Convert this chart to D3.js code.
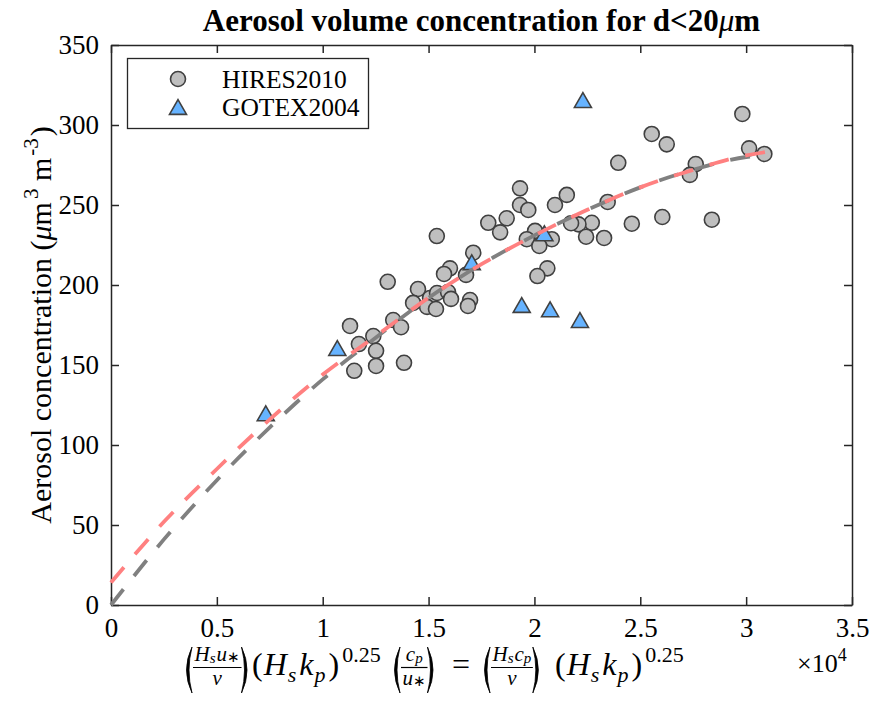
<!DOCTYPE html>
<html><head><meta charset="utf-8">
<script src="https://cdn.jsdelivr.net/npm/d3@7"></script>
<style>body{margin:0;background:#fff}svg{display:block}</style>
</head><body><svg id="c" width="874" height="710"></svg>
<script>
// ---------------- DATA ----------------
const hiresX = [2.982,2.554,2.625,3.014,3.086,2.396,2.762,2.734,2.346,2.271,2.208,2.460,2.604,2.838,2.244,2.329,
  1.932,2.153,1.932,2.097,1.971,1.869,1.782,1.838,2.003,2.173,1.964,2.082,2.023,2.061,2.014,
  1.539,1.711,1.601,1.573,1.677,1.450,1.427,1.507,1.540,1.592,1.606,1.493,1.535,1.696,1.686,
  1.307,1.333,1.370,1.129,1.239,1.171,1.252,1.384,1.252,1.149];
const hiresY = [306.9,294.4,287.9,285.4,281.9,276.4,275.6,268.8,251.9,238.9,237.9,238.3,242.5,240.8,230.2,229.4,
  260.4,256.3,250.0,250.0,246.9,241.7,238.9,232.9,233.8,238.6,228.6,228.6,224.4,210.4,205.6,
  230.6,220.2,210.4,206.9,206.3,197.5,188.8,191.9,195.0,195.6,191.3,186.3,185.0,190.6,186.9,
  202.0,178.1,173.6,174.4,168.1,163.1,158.9,151.4,149.4,146.4];
const gotexX = [2.229,1.069,0.731,1.704,2.047,1.940,2.074,2.215];
const gotexY = [315.6,160.6,119.8,214.2,232.3,187.5,184.8,178.1];
const fitX     = [0,0.25,0.5,0.75,1,1.25,1.5,1.75,2,2.25,2.5,2.75,3,3.09];
const grayFitY = [0,41,78,111,141,167,192,213,231,247,261,272,280,281];
const redFitY  = [14,52,85,116,144,168,192,213,231,247,261,272,281,283];
const xTicks = [0,0.5,1,1.5,2,2.5,3,3.5];
const xTickLabels = ["0","0.5","1","1.5","2","2.5","3","3.5"];
const yTicks = [0,50,100,150,200,250,300,350];
const yTickLabels = ["0","50","100","150","200","250","300","350"];
const seriesNames = ["HIRES2010","GOTEX2004"];

// ---------------- SETUP ----------------
const FONT = '"Liberation Serif","Times New Roman",Times,serif';
const AX = '#262626';
const svg = d3.select('#c').attr('font-family', FONT);
const x = d3.scaleLinear().domain([0,3.5]).range([111,852]);
const y = d3.scaleLinear().domain([0,350]).range([605,45]);

function styleAxis(g){
  g.selectAll('path.domain').attr('stroke',AX).attr('stroke-width',1.5);
  g.selectAll('.tick line').attr('stroke',AX).attr('stroke-width',1.5);
  g.selectAll('.tick text').attr('fill','#000').attr('font-size',27).attr('font-family',FONT);
}
svg.append('g').attr('transform','translate(0,605)')
  .call(d3.axisBottom(x).tickValues(xTicks).tickFormat((d,i)=>xTickLabels[i]).tickSizeInner(-8).tickSizeOuter(0).tickPadding(13))
  .call(styleAxis);
svg.append('g').attr('transform','translate(0,45)')
  .call(d3.axisTop(x).tickValues(xTicks).tickFormat('').tickSizeInner(-8).tickSizeOuter(0))
  .call(styleAxis);
svg.append('g').attr('transform','translate(111,0)')
  .call(d3.axisLeft(y).tickValues(yTicks).tickFormat((d,i)=>yTickLabels[i]).tickSizeInner(-8).tickSizeOuter(0).tickPadding(12))
  .call(styleAxis);
svg.append('g').attr('transform','translate(852,0)')
  .call(d3.axisRight(y).tickValues(yTicks).tickFormat('').tickSizeInner(-8).tickSizeOuter(0))
  .call(styleAxis);

// markers
const CIRC_FILL = '#bfbfbf', MK_STROKE = '#404040', TRI_FILL = '#66b3ff';
const triPath = (s)=>{const h=s*0.87;return `M0,${-h/2}L${s/2},${h/2}L${-s/2},${h/2}Z`;};
svg.append('g').selectAll('circle').data(d3.zip(hiresX,hiresY)).join('circle')
  .attr('cx',d=>x(d[0])).attr('cy',d=>y(d[1])).attr('r',7.5)
  .attr('fill',CIRC_FILL).attr('stroke',MK_STROKE).attr('stroke-width',1.6);
svg.append('g').selectAll('path').data(d3.zip(gotexX,gotexY)).join('path')
  .attr('transform',d=>`translate(${x(d[0])},${y(d[1])})`).attr('d',triPath(17))
  .attr('fill',TRI_FILL).attr('stroke',MK_STROKE).attr('stroke-width',1.6);

// fit curves
const line = d3.line().x(d=>x(d[0])).y(d=>y(d[1])).curve(d3.curveMonotoneX);
svg.append('path').datum(d3.zip(fitX,grayFitY)).attr('d',line).attr('fill','none')
  .attr('stroke','#808080').attr('stroke-width',3.8).attr('stroke-dasharray','20,17');
svg.append('path').datum(d3.zip(fitX,redFitY)).attr('d',line).attr('fill','none')
  .attr('stroke','#ff8080').attr('stroke-width',3.8).attr('stroke-dasharray','20,17');

// legend
const lg = svg.append('g');
lg.append('rect').attr('x',127.5).attr('y',58.5).attr('width',241).attr('height',70)
  .attr('fill','#fff').attr('stroke',AX).attr('stroke-width',1.3);
lg.append('circle').attr('cx',178).attr('cy',79).attr('r',7.5).attr('fill',CIRC_FILL).attr('stroke',MK_STROKE).attr('stroke-width',1.6);
lg.append('path').attr('transform','translate(178,107)').attr('d',triPath(17)).attr('fill',TRI_FILL).attr('stroke',MK_STROKE).attr('stroke-width',1.6);
lg.append('text').attr('x',222).attr('y',88).attr('font-size',25.5).text(seriesNames[0]);
lg.append('text').attr('x',222).attr('y',116).attr('font-size',25.5).text(seriesNames[1]);

// title
const tt = svg.append('text').attr('x',481.5).attr('y',31).attr('text-anchor','middle')
  .attr('font-size',31).attr('font-weight','bold');
tt.append('tspan').text('Aerosol volume concentration for d<20');
tt.append('tspan').attr('font-style','italic').attr('font-weight','normal').text('μ');
tt.append('tspan').text('m');

// y label
const yl = svg.append('text').attr('transform','translate(51,325) rotate(-90)').attr('text-anchor','middle').attr('font-size',30);
yl.append('tspan').text('Aerosol concentration (');
yl.append('tspan').attr('font-style','italic').text('μ');
yl.append('tspan').text('m');
yl.append('tspan').attr('font-size',21).attr('dy',-13).attr('dx',3).text('3');
yl.append('tspan').attr('dy',13).text(' m');
yl.append('tspan').attr('font-size',21).attr('dy',-13).attr('dx',2).text('-3');
yl.append('tspan').attr('dy',13).attr('dx',2).text(')');

// x label (math)
const F=32, S=22, FF=21, FS=15;
function bigParen(g, cx, base, left){
  const w=8, top=base-28, bot=base+18, mid=(top+bot)/2;
  let d;
  if(left) d=`M${cx+w},${top} Q${cx-3},${mid} ${cx+w},${bot} Q${cx+2},${mid} ${cx+w},${top}Z`;
  else d=`M${cx},${top} Q${cx+w+3},${mid} ${cx},${bot} Q${cx+w-2},${mid} ${cx},${top}Z`;
  g.append('path').attr('d',d).attr('fill','#000').attr('stroke','#000').attr('stroke-width',0.8);
  return w+1;
}
function mathRow(g, items, x0, base){
  let cx=x0;
  items.forEach(it=>{
    if(it.sp!==undefined){cx+=it.sp;return;}
    if(it.paren){cx+=bigParen(g,cx,base,it.paren==='L');return;}
    if(it.frac){
      const gN=g.append('g'), gD=g.append('g');
      const wN=mathRow(gN,it.frac[0],0,0), wD=mathRow(gD,it.frac[1],0,0);
      const w=Math.max(wN,wD)+3;
      gN.attr('transform',`translate(${cx+(w-wN)/2},${base-14})`);
      gD.attr('transform',`translate(${cx+(w-wD)/2},${base+10})`);
      g.append('line').attr('x1',cx).attr('x2',cx+w).attr('y1',base-7.5).attr('y2',base-7.5).attr('stroke','#000').attr('stroke-width',1.2);
      cx+=w;return;
    }
    const t=g.append('text').attr('x',cx).attr('y',base+(it.dy||0)).attr('font-size',it.fs||F)
      .attr('font-style',it.it?'italic':'normal').text(it.s);
    cx+=t.node().getComputedTextLength()+(it.k||0);
  });
  return cx-x0;
}
const Hs=[{s:'H',it:1,fs:FF,k:0},{s:'s',it:1,fs:FS,dy:2,k:1}];
const pw=[{s:'(',fs:F,k:1},{s:'H',it:1,fs:F,k:1},{s:'s',it:1,fs:S,dy:7,k:3},{s:'k',it:1,fs:F,k:1},{s:'p',it:1,fs:S,dy:7,k:3},{s:')',fs:F,k:3},{s:'0.25',fs:S,dy:-13}];
const XB=675;
const xlg=svg.append('g');
mathRow(xlg,[{paren:'L'},{frac:[[...Hs,{s:'u',it:1,fs:FF},{s:'∗',fs:FS,dy:1}],[{s:'ν',it:1,fs:FF}]]},{paren:'R'}],184,XB);
mathRow(xlg,pw,252,XB);
mathRow(xlg,[{paren:'L'},{frac:[[{s:'c',it:1,fs:FF},{s:'p',it:1,fs:FS,dy:2}],[{s:'u',it:1,fs:FF},{s:'∗',fs:FS,dy:1}]]},{paren:'R'}],392,XB);
mathRow(xlg,[{s:'=',fs:F}],452,XB);
mathRow(xlg,[{paren:'L'},{frac:[[...Hs,{s:'c',it:1,fs:FF},{s:'p',it:1,fs:FS,dy:2}],[{s:'ν',it:1,fs:FF}]]},{paren:'R'}],482,XB);
mathRow(xlg,pw,555,XB);
const ex=svg.append('text').attr('x',797).attr('y',XB-3).attr('font-size',26);
ex.append('tspan').text('×10');
ex.append('tspan').attr('font-size',18).attr('dy',-11).text('4');
</script></body></html>
